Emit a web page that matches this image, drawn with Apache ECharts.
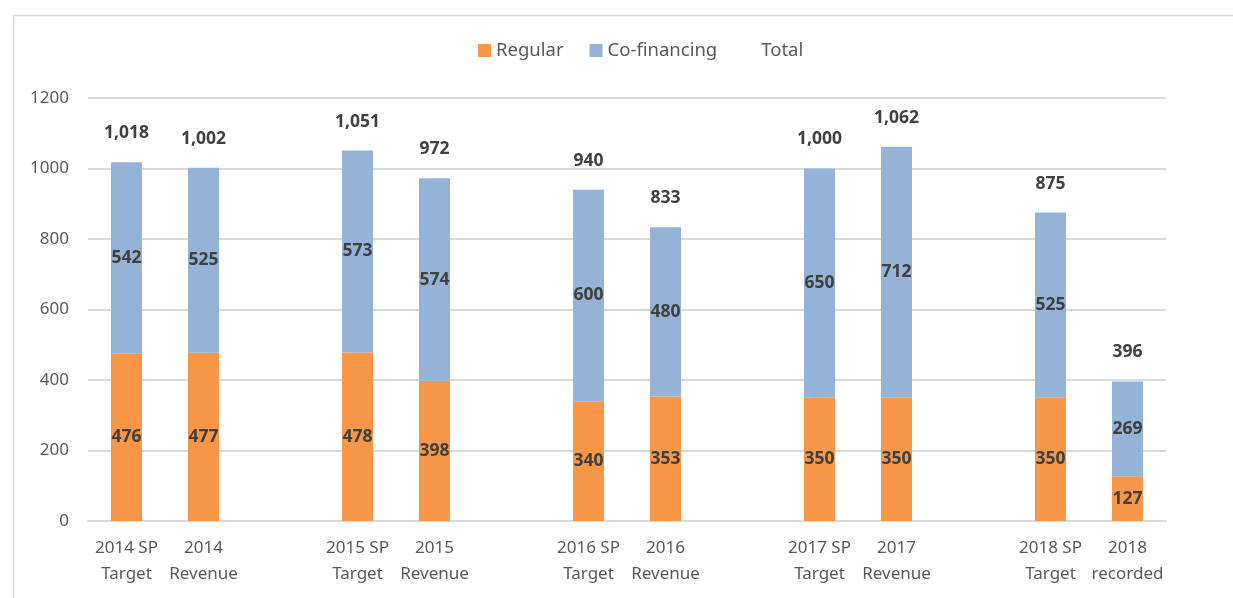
<!DOCTYPE html>
<html>
<head>
<meta charset="utf-8">
<script src="https://cdn.jsdelivr.net/npm/echarts@6/dist/echarts.min.js"></script>
<style>
  html, body { margin: 0; padding: 0; background: #fff; }
  #bar { width: 1233px; height: 598px; }
</style>
</head>
<body>
<div id="bar"></div>
<script>
// categories, a blank slot between each year
var categories = [
    '2014 SP\nTarget', '2014\nRevenue', '',
    '2015 SP\nTarget', '2015\nRevenue', '',
    '2016 SP\nTarget', '2016\nRevenue', '',
    '2017 SP\nTarget', '2017\nRevenue', '',
    '2018 SP\nTarget', '2018\nrecorded'
];
var regular = [476, 477, '-', 478, 398, '-', 340, 353, '-', 350, 350, '-', 350, 127];
var coFinancing = [542, 525, '-', 573, 574, '-', 600, 480, '-', 650, 712, '-', 525, 269];
var total = [1018, 1002, '-', 1051, 972, '-', 940, 833, '-', 1000, 1062, '-', 875, 396];
var yTicks = [0, 200, 400, 600, 800, 1000, 1200];

var dom = document.getElementById("bar");
var myChart = echarts.init(dom);
var font = 'Noto Sans';

var segLabel = {
    show: true,
    position: 'inside',
    fontFamily: font,
    fontSize: 17.5,
    fontWeight: 'bold',
    color: '#404040'
};

option = {
    animation: false,
    color: ['#F79646', '#95B3D7', 'transparent'],
    // outer frame
    graphic: [{
        type: 'rect',
        left: 11, top: 13,
        shape: { width: 1240, height: 600 },
        style: { fill: 'none', stroke: '#d9d9d9', lineWidth: 1.5 }
    }],
    legend: {
        top: 36,
        left: 473,
        itemWidth: 13,
        itemHeight: 13,
        itemGap: 26,
        icon: 'rect',
        textStyle: { fontFamily: font, fontSize: 18.5, color: '#595959' },
        data: ['Regular', 'Co-financing', 'Total']
    },
    grid: {
        left: 88,
        right: 67,
        top: 98,
        bottom: 77
    },
    xAxis: {
        type: 'category',
        data: categories,
        axisTick: { show: false },
        axisLine: { lineStyle: { color: '#d9d9d9', width: 2 } },
        axisLabel: {
            interval: 0,
            margin: 14,
            lineHeight: 26,
            fontFamily: font,
            fontSize: 17,
            color: '#595959'
        }
    },
    yAxis: {
        type: 'value',
        min: yTicks[0],
        max: yTicks[yTicks.length - 1],
        interval: 200,
        axisLine: { show: false },
        axisTick: { show: false },
        splitLine: { lineStyle: { color: '#d9d9d9', width: 2 } },
        axisLabel: {
            margin: 19,
            fontFamily: font,
            fontSize: 17,
            color: '#595959',
            formatter: function (v) { return String(v); }
        }
    },
    series: [
        {
            name: 'Regular',
            type: 'bar',
            stack: 'all',
            barWidth: 31,
            label: segLabel,
            data: regular
        },
        {
            name: 'Co-financing',
            type: 'bar',
            stack: 'all',
            barWidth: 31,
            label: segLabel,
            data: coFinancing
        },
        {
            // invisible bar behind the stack, only its label shows
            name: 'Total',
            type: 'bar',
            barWidth: 31,
            barGap: '-100%',
            z: 1,
            itemStyle: { color: 'transparent' },
            label: {
                show: true,
                position: 'top',
                distance: 20,
                fontFamily: font,
                fontSize: 17.5,
                fontWeight: 'bold',
                color: '#404040',
                formatter: function (p) {
                    return Number(p.value).toLocaleString('en-US');
                }
            },
            data: total
        }
    ]
};
if (option && typeof option === "object") {
    myChart.setOption(option, true);
}
</script>
</body>
</html>
